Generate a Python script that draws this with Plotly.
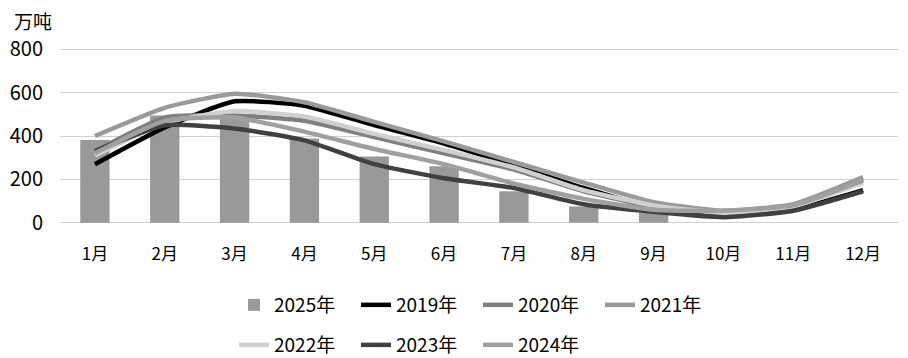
import plotly.graph_objects as go

months = ["1月", "2月", "3月", "4月", "5月", "6月", "7月", "8月", "9月", "10月", "11月", "12月"]
bar_months = months[:9]
y2025 = [382, 495, 480, 388, 305, 260, 145, 75, 45]
y2019 = [270, 440, 560, 540, 450, 365, 265, 160, 70, 30, 60, 150]
y2020 = [330, 485, 495, 470, 395, 320, 245, 145, 75, 50, 80, 200]
y2021 = [400, 530, 595, 556, 465, 375, 280, 185, 95, 55, 85, 210]
y2022 = [310, 460, 515, 490, 410, 335, 255, 150, 80, 45, 75, 185]
y2023 = [330, 450, 435, 380, 270, 205, 160, 85, 50, 25, 55, 145]
y2024 = [320, 470, 485, 420, 340, 270, 180, 110, 60, 55, 80, 195]

font_family = "Noto Sans CJK SC"
W, H = 900, 350

fig = go.Figure()
fig.add_trace(go.Bar(x=bar_months, y=y2025, name="2025年", marker_color="#999999",
                     marker_line_width=0, width=0.42, legend="legend"))
series = [
    ("2019年", y2019, "#000000", "legend"),
    ("2020年", y2020, "#7f7f7f", "legend"),
    ("2021年", y2021, "#9a9a9a", "legend"),
    ("2022年", y2022, "#d0d0d0", "legend2"),
    ("2023年", y2023, "#404040", "legend2"),
    ("2024年", y2024, "#a0a0a0", "legend2"),
]
for name, ys, col, lg in series:
    fig.add_trace(go.Scatter(x=months, y=ys, name=name, mode="lines", legend=lg,
                             line=dict(color=col, width=4.5, shape="spline", smoothing=0.5)))

leg_common = dict(orientation="h", xref="container", yref="container",
                  x=0.2511, xanchor="left", yanchor="middle",
                  entrywidth=77, entrywidthmode="pixels", font=dict(size=19),
                  traceorder="normal", bgcolor="rgba(0,0,0,0)")

fig.update_layout(
    width=W, height=H,
    margin=dict(l=52, r=10, t=40, b=134, autoexpand=False),
    paper_bgcolor="white", plot_bgcolor="white",
    font=dict(family=font_family, size=17, color="#000000"),
    showlegend=True,
    legend=dict(y=1 - 297 / H, **leg_common),
    legend2=dict(y=1 - 337 / H, **leg_common),
    xaxis=dict(categoryorder="array", categoryarray=months, range=[-0.5, 11.5],
               showgrid=False, showline=False, ticks="", tickfont=dict(size=17),
               ticklabelstandoff=18),
    yaxis=dict(range=[-6, 806], tickvals=[0, 200, 400, 600, 800], showgrid=True,
               gridcolor="#d0d0d0", gridwidth=1, zeroline=False, showline=False,
               ticks="", tickfont=dict(size=20), ticklabelstandoff=16),
)
fig.add_annotation(text="万吨", xref="paper", yref="paper", x=-0.057, y=1.07,
                   xanchor="left", yanchor="bottom", showarrow=False,
                   font=dict(size=19, family=font_family))

fig.write_html("out.html")
